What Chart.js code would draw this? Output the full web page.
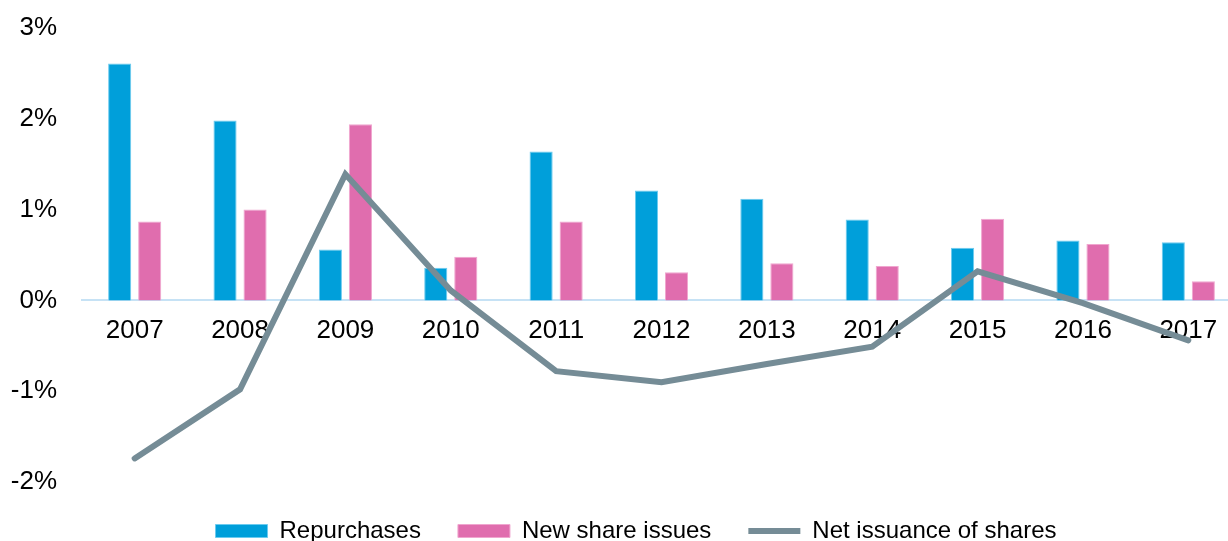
<!DOCTYPE html>
<html>
<head>
<meta charset="utf-8">
<script src="https://cdn.jsdelivr.net/npm/chart.js@4.4.1/dist/chart.umd.min.js"></script>
<style>
  body { margin: 0; overflow: hidden; background: #fff; }
  #wrap { width: 1261px; height: 553px; position: relative; }
</style>
</head>
<body>
<div id="wrap"><canvas id="chart"></canvas></div>
<script>
const years = ["2007", "2008", "2009", "2010", "2011", "2012", "2013", "2014", "2015", "2016", "2017"];
const repurchases = [2.61, 1.98, 0.56, 0.36, 1.64, 1.21, 1.12, 0.89, 0.58, 0.66, 0.64];
const newIssues = [0.87, 1.00, 1.94, 0.48, 0.87, 0.31, 0.41, 0.38, 0.90, 0.62, 0.21];
const netIssuance = [-1.74, -0.98, 1.39, 0.11, -0.78, -0.90, -0.70, -0.51, 0.32, -0.03, -0.44];

const fontName = "'Liberation Sans', Arial, sans-serif";
const ctx = document.getElementById("chart").getContext("2d");

// bars first in legend, line drawn on top
new Chart(ctx, {
  type: "bar",
  data: {
    labels: years,
    datasets: [
      {
        label: "Repurchases",
        data: repurchases,
        backgroundColor: "#009FDA",
        borderColor: "#6CCBEF",
        borderWidth: 1,
        pointStyle: "rect",
        order: 2,
        categoryPercentage: 0.57,
        barPercentage: 0.77,
      },
      {
        label: "New share issues",
        data: newIssues,
        backgroundColor: "#E06DAE",
        borderColor: "#F0A6CF",
        borderWidth: 1,
        pointStyle: "rect",
        order: 2,
        categoryPercentage: 0.57,
        barPercentage: 0.77,
      },
      {
        type: "line",
        label: "Net issuance of shares",
        data: netIssuance,
        borderColor: "#758C96",
        backgroundColor: "#758C96",
        borderWidth: 6,
        borderCapStyle: "round",
        borderJoinStyle: "miter",
        pointRadius: 0,
        pointStyle: "line",
        tension: 0,
        order: 1,
      },
    ],
  },
  options: {
    responsive: true,
    maintainAspectRatio: false,
    animation: false,
    layout: { padding: { left: 11, right: 0, top: 28, bottom: 0 } },
    scales: {
      x: {
        position: { y: 0 },
        grid: { display: false, drawTicks: false },
        border: { display: true, color: "#C6E2F5", width: 2 },
        afterFit: (scale) => { scale.height = 0; },
        ticks: { color: "#000", font: { family: fontName, size: 26 }, padding: 15 },
      },
      y: {
        min: -2,
        max: 3,
        grid: { display: false, drawTicks: false },
        border: { display: false },
        afterFit: (scale) => {
          scale.width = 71;
          scale.paddingTop = 0;
          scale.paddingBottom = 16;
        },
        ticks: {
          stepSize: 1,
          color: "#000",
          padding: 25,
          font: { family: fontName, size: 26 },
          callback: (v) => v + "%",
        },
      },
      // empty spacer on the right so the legend sits where it should
      spacer: {
        axis: "y",
        position: "right",
        display: true,
        grid: { display: false },
        border: { display: false },
        ticks: { display: false },
        afterFit: (scale) => { scale.width = 20; },
      },
    },
    plugins: {
      tooltip: { enabled: false },
      legend: {
        position: "bottom",
        labels: {
          usePointStyle: true,
          pointStyleWidth: 52,
          boxHeight: 13,
          color: "#000",
          padding: 37,
          font: { family: fontName, size: 24 },
          sort: (a, b) => a.datasetIndex - b.datasetIndex,
        },
      },
    },
  },
});
</script>
</body>
</html>
